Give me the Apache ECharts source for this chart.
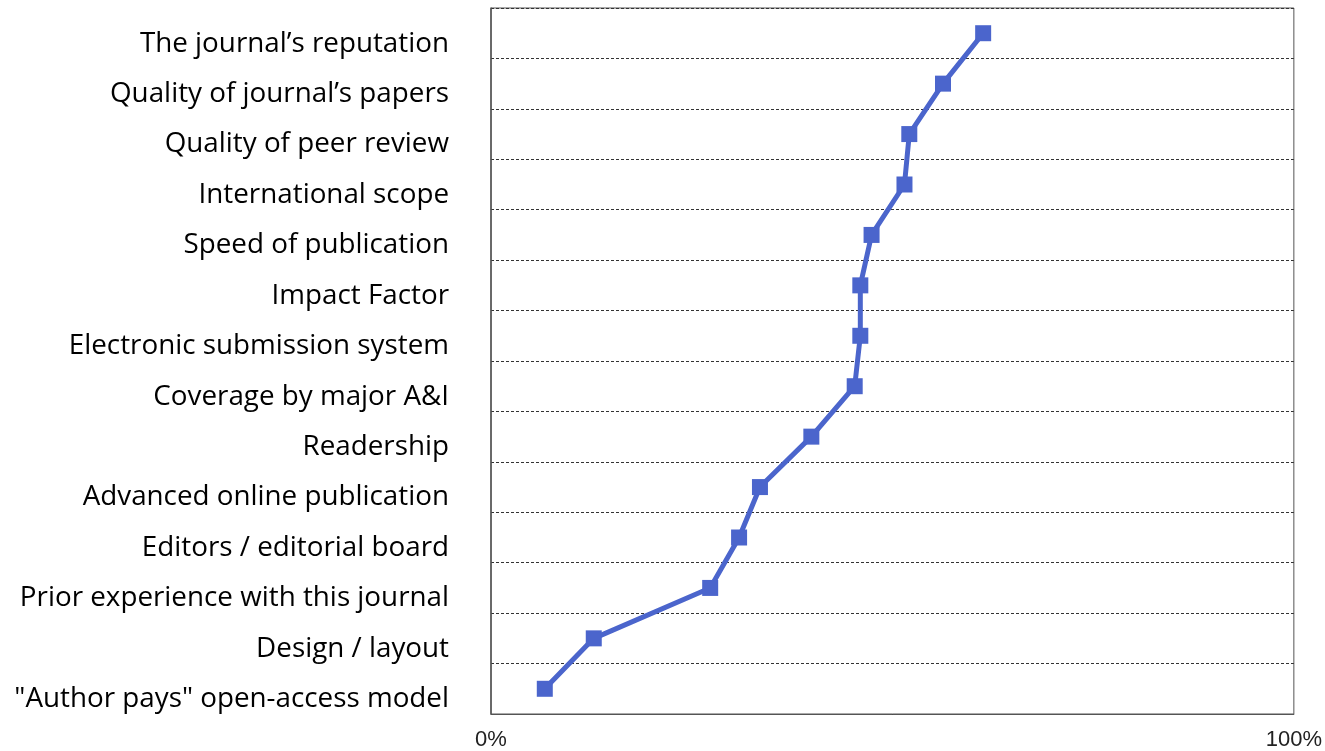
<!DOCTYPE html>
<html>
<head>
<meta charset="utf-8">
<script src="https://cdn.jsdelivr.net/npm/echarts@6/dist/echarts.min.js"></script>
<style>html,body{margin:0;padding:0;background:#fff;}#c{width:1325px;height:751px;}</style>
</head>
<body>
<div id="c"></div>
<script>
const categories = [
  "The journal\u2019s reputation",
  "Quality of journal\u2019s papers",
  "Quality of peer review",
  "International scope",
  "Speed of publication",
  "Impact Factor",
  "Electronic submission system",
  "Coverage by major A&I",
  "Readership",
  "Advanced online publication",
  "Editors / editorial board",
  "Prior experience with this journal",
  "Design / layout",
  "\"Author pays\" open-access model"
];
const values = [61.3, 56.3, 52.1, 51.5, 47.4, 46.0, 46.0, 45.3, 39.9, 33.5, 30.9, 27.3, 12.8, 6.7];
const xTicks = [0, 100];

const chart = echarts.init(document.getElementById('c'), null, {renderer: 'canvas'});
chart.setOption({
  animation: false,
  backgroundColor: '#fff',
  grid: {left: 491, top: 8, width: 804, height: 707, show: true, borderColor: '#555', borderWidth: 1, backgroundColor: 'transparent'},
  xAxis: {
    type: 'value', min: xTicks[0], max: xTicks[1], interval: 100,
    axisLine: {show: true, lineStyle: {color: '#555'}},
    axisTick: {show: false},
    splitLine: {show: false},
    axisLabel: {
      formatter: v => v + '%',
      fontFamily: 'Liberation Sans, Arial, sans-serif', fontSize: 22, color: '#222', margin: 15
    }
  },
  yAxis: {
    type: 'category', data: categories, inverse: true,
    axisLine: {show: true, lineStyle: {color: '#555', width: 1.5}},
    axisTick: {show: false},
    splitLine: {show: true, lineStyle: {color: '#333', type: [3, 2], width: 1}},
    axisLabel: {
      fontFamily: 'Open Sans, sans-serif', fontSize: 27.8, color: '#000', margin: 42,
      verticalAlign: 'top', lineHeight: 21
    }
  },
  series: [{
    type: 'line', data: values,
    symbol: 'rect', symbolSize: 16,
    lineStyle: {color: '#4b65cc', width: 5},
    itemStyle: {color: '#4b65cc'}
  }]
});
</script>
</body>
</html>
